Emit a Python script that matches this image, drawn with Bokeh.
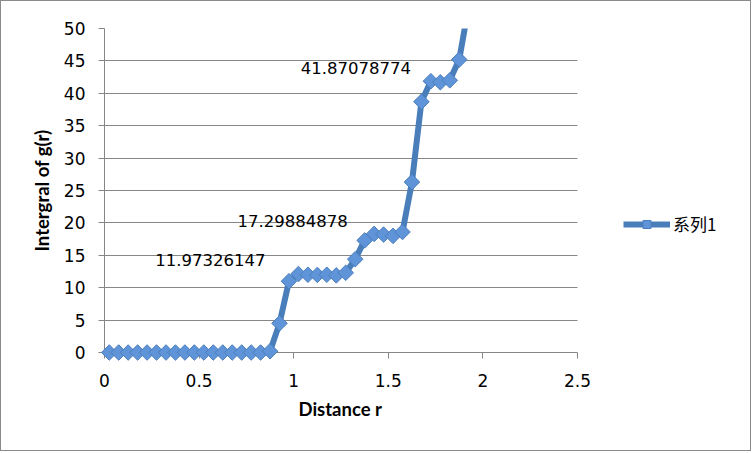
import numpy as np
from bokeh.plotting import figure
from bokeh.models import (FixedTicker, CustomJSTickFormatter, ColumnDataSource, CDSView,
                          BooleanFilter, Legend, LegendItem, Range1d, Title)
from bokeh.core.properties import value
from bokeh.embed import file_html
from bokeh.resources import INLINE

# ---- data ----
distance = [0.025, 0.075, 0.125, 0.175, 0.225, 0.275, 0.325, 0.375, 0.425, 0.475,
            0.525, 0.575, 0.625, 0.675, 0.725, 0.775, 0.825, 0.875, 0.925, 0.975,
            1.025, 1.075, 1.125, 1.175, 1.225, 1.275, 1.325, 1.375, 1.425, 1.475,
            1.525, 1.575, 1.625, 1.675, 1.725, 1.775, 1.825, 1.875, 1.925, 1.975]
integral = [0, 0, 0, 0, 0, 0, 0, 0, 0, 0,
            0, 0, 0, 0, 0, 0, 0, 0.2, 4.5, 11.0,
            12.1, 12.0, 11.97326147, 12.0, 11.9, 12.3, 14.4, 17.29884878, 18.3, 18.2,
            18.0, 18.6, 26.3, 38.7, 41.87078774, 41.7, 42.0, 45.2, 53.5, 61.0]
series_name = "系列1"
label_x = [1.125, 1.375, 1.725]
label_y = [11.97326147, 17.29884878, 41.87078774]
label_text = ["11.97326147", "17.29884878", "41.87078774"]
x_ticks = [0, 0.5, 1, 1.5, 2, 2.5]
y_ticks = [0, 5, 10, 15, 20, 25, 30, 35, 40, 45, 50]
x_title = "Distance r"
y_title = "Intergral of g(r)"
x_max = 2.5
y_max = 50

LINE = "#4A7EBB"
FILL = "#6094D8"
AXIS = "#868686"
TITLE_FONT = "Lato"
TITLE_SIZE = "18.5px"

# the frame runs on to the right edge so that the legend can sit beside the axes;
# axis and grid lines are bounded to 0..x_max
FRAME_LEFT, AXIS_PX, FRAME_PX = 103, 473, 641
x_view_end = x_max * FRAME_PX / AXIS_PX

p = figure(width=751, height=451, output_backend="svg", toolbar_location=None,
           x_range=Range1d(0, x_view_end), y_range=Range1d(0, y_max),
           min_border_left=FRAME_LEFT, min_border_right=751 - FRAME_LEFT - FRAME_PX,
           min_border_top=27, min_border_bottom=100,
           background_fill_color="white", border_fill_color="white")
p.styles = {"border": "1px solid #8a8a8a"}
p.outline_line_color = None

src = ColumnDataSource(dict(x=distance, y=integral))
line_r = p.line("x", "y", source=src, line_color=LINE, line_width=6, line_join="round")
mask = [v <= y_max for v in integral]
scatter_r = p.scatter("x", "y", source=src, view=CDSView(filter=BooleanFilter(mask)),
                      marker="square", angle=np.pi / 4, size=11,
                      fill_color=FILL, line_color=LINE, line_width=1, level="overlay")

lab_src = ColumnDataSource(dict(x=label_x, y=label_y, t=label_text,
                                dx=[-107, -72, -75], dy=[-15, -19, -13]))
p.text("x", "y", text="t", source=lab_src, x_offset="dx", y_offset="dy",
       text_font=value("DejaVu Sans"), text_font_size="16.5px", text_color="black",
       text_align="center", text_baseline="middle")

tick_font = "DejaVu Sans"
for ax in (p.xaxis[0], p.yaxis[0]):
    ax.axis_line_color = AXIS
    ax.major_tick_line_color = AXIS
    ax.minor_tick_line_color = None
    ax.major_tick_out = 6
    ax.major_tick_in = 0
    ax.major_label_text_font = tick_font
    ax.major_label_text_font_size = "17px"
    ax.major_label_text_color = "black"
    ax.axis_label_text_font = TITLE_FONT
    ax.axis_label_text_font_style = "bold"
    ax.axis_label_text_font_size = TITLE_SIZE
    ax.axis_label_text_color = "black"

p.xaxis.bounds = (0, x_max)
p.xaxis.ticker = FixedTicker(ticks=x_ticks)
p.yaxis.ticker = FixedTicker(ticks=y_ticks)
p.xaxis.formatter = CustomJSTickFormatter(code="return tick.toString();")
p.yaxis.formatter = CustomJSTickFormatter(code="return tick.toString();")
p.yaxis.axis_label = y_title
p.xaxis.major_label_standoff = 15
p.yaxis.major_label_standoff = 13
p.yaxis.axis_label_standoff = 8

# x-axis title, centred under the bounded axis (not under the wider frame)
p.add_layout(Title(text=x_title, align="left", offset=194, standoff=12,
                   text_font=TITLE_FONT, text_font_style="bold",
                   text_font_size=TITLE_SIZE, text_color="black"), "below")

p.xgrid.grid_line_color = None
p.ygrid.grid_line_color = "#878787"
p.ygrid.grid_line_width = 1
p.ygrid.cross_bounds = (0, x_max)

legend = Legend(items=[LegendItem(label=series_name, renderers=[line_r, scatter_r])],
                location=(519, 116), padding=0, margin=0, border_line_color=None,
                background_fill_alpha=0, glyph_width=47, glyph_height=20,
                label_standoff=3, label_height=20, spacing=0,
                label_text_font="Noto Sans CJK SC", label_text_font_size="17px",
                label_text_color="black")
p.add_layout(legend)

open("out.html", "w").write(file_html(p, INLINE))
